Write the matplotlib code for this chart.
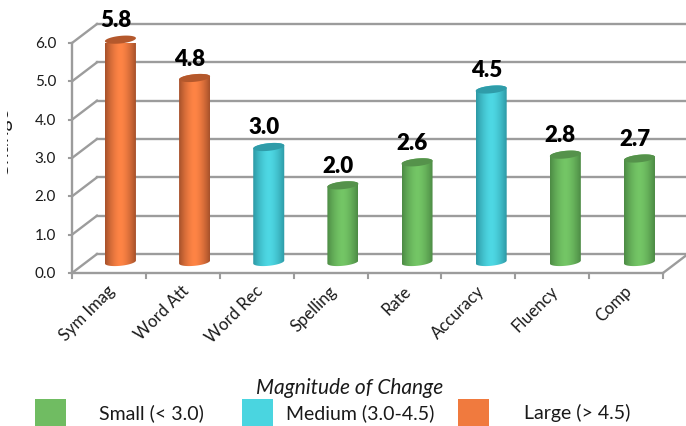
import numpy as np
import matplotlib
matplotlib.use("Agg")
import matplotlib.pyplot as plt
from matplotlib.colors import LinearSegmentedColormap
from matplotlib.patches import PathPatch, Rectangle
from matplotlib.path import Path
from matplotlib.transforms import Bbox

plt.rcParams['font.family'] = ['Lato', 'DejaVu Sans']

# Data
categories = ['Sym Imag', 'Word Att', 'Word Rec', 'Spelling', 'Rate', 'Accuracy', 'Fluency', 'Comp']
values = [5.8, 4.8, 3.0, 2.0, 2.6, 4.5, 2.8, 2.7]
magnitude = ['large', 'large', 'medium', 'small', 'small', 'medium', 'small', 'small']
y_ticks = [0, 1, 2, 3, 4, 5, 6]

# edge, middle, cap colours of the cylinders
palette = {
    'small': ('#4C8A44', '#74C666', '#55924B'),
    'medium': ('#2C97A3', '#4ED8E4', '#2F9CA9'),
    'large': ('#A5502A', '#FF8445', '#B4582C'),
}
legend_items = [('Small (< 3.0)', '#70BC62', 35, 151),
                ('Medium (3.0-4.5)', '#4AD5E0', 242, 360),
                ('Large (> 4.5)', '#F07A3E', 458, 577)]

W, H = 686, 427
fig = plt.figure(figsize=(W / 100, H / 100), dpi=100)
# front of the plot box
ax = fig.add_axes([72 / W, 1 - 274 / H, 591 / W, 230 / H])
ax.set_xlim(-0.5, 7.5)
ax.set_ylim(0, 6)
ax.axis('off')

px_x = 8 / 591   # data units per pixel
px_y = 6 / 230
depth_x = 25 * px_x
depth_y = 19 * px_y
grid_col = '#9C9C9C'

# walls: gridlines on the back and the side
for t in y_ticks:
    ax.plot([-0.5, -0.5 + depth_x], [t, t + depth_y], color=grid_col, lw=1.7, clip_on=False, zorder=1)
    ax.plot([-0.5 + depth_x, 7.5 + depth_x], [t + depth_y, t + depth_y], color=grid_col, lw=1.7,
            clip_on=False, zorder=1)
    ax.plot([-0.5 - 3 * px_x, -0.5], [t, t], color=grid_col, lw=1.5, clip_on=False, zorder=1)
    ax.text(-0.5 - 16 * px_x, t, f'{t:.1f}', ha='right', va='center', fontsize=11, color='#1A1A1A')

ax.plot([-0.5, -0.5], [0, 6], color=grid_col, lw=1.7, clip_on=False, zorder=1)
ax.plot([-0.5, 7.5], [0, 0], color=grid_col, lw=1.7, clip_on=False, zorder=1)
ax.plot([7.5, 7.5 + depth_x], [0, depth_y], color=grid_col, lw=1.7, clip_on=False, zorder=1)
for i in range(9):
    ax.plot([i - 0.5, i - 0.5], [0, -5 * px_y], color=grid_col, lw=1.5, clip_on=False, zorder=1)

# cylinders
half_w = 15.5 * px_x
half_h = 3.8 * px_y
tilt = 1.5 * px_y
shift_x = 11.5 * px_x
step = 74.15 * px_x
base = 11 * px_y
t_lo = np.linspace(np.pi, 2 * np.pi, 40)
t_up = np.linspace(0, np.pi, 40)
t_all = np.linspace(0, 2 * np.pi, 80)
ramp = np.abs(np.linspace(-1, 1, 256)) ** 1.6

for i, (v, m) in enumerate(zip(values, magnitude)):
    edge, mid, cap = palette[m]
    cmap = LinearSegmentedColormap.from_list('cyl', [mid, edge])
    cx = i * step + shift_x
    # body outline: lower arc of the base, upper arc of the top, right side higher than left
    xs = np.r_[cx + half_w * np.cos(t_lo), cx + half_w * np.cos(t_up)]
    ys = np.r_[base + half_h * np.sin(t_lo) + tilt * np.cos(t_lo),
               base + v + half_h * np.sin(t_up) + tilt * np.cos(t_up)]
    body = PathPatch(Path(np.c_[xs, ys]), transform=ax.transData, fc='none', ec='none')
    ax.add_patch(body)
    im = ax.imshow(ramp[None, :], cmap=cmap, vmin=0, vmax=1, aspect='auto', zorder=3,
                   extent=[cx - half_w, cx + half_w, 0, base + v + half_h + tilt + 0.1])
    im.set_clip_path(body)
    ax.fill(cx + half_w * np.cos(t_all),
            base + v + half_h * np.sin(t_all) + tilt * np.cos(t_all),
            color=cap, lw=0, zorder=4, clip_on=False)
    ax.text(cx - 5 * px_x, base + v + 20 * px_y, f'{v:.1f}', ha='center', va='center',
            fontsize=16, fontweight='heavy', color='black', zorder=5, clip_on=False)
    ax.text(i - 2 * px_x, -9 * px_y, categories[i], rotation=45, ha='right', va='top',
            rotation_mode='anchor', fontsize=12, color='#1A1A1A', clip_on=False)

ax.set_xlim(-0.5, 7.5)
ax.set_ylim(0, 6)

# axis title cut off in the reference: only the bottoms of its letters show
ytitle = fig.text(8 / W, 1 - 142 / H, 'Change', rotation=90, ha='center', va='baseline',
                  rotation_mode='anchor', fontsize=15, color='#1A1A1A')
ytitle.set_clip_box(Bbox.from_extents(7, 0, 40, H))
ytitle.set_clip_on(True)

# legend
fig.text(350 / W, 1 - 388 / H, 'Magnitude of Change', style='italic', ha='center', va='center',
         fontsize=15, color='#1A1A1A')
for label, col, x0, xt in legend_items:
    fig.add_artist(Rectangle((x0 / W, 1 - 427 / H), 31 / W, 27 / H, transform=fig.transFigure, fc=col, ec='none'))
    fig.text(xt / W, 1 - 413 / H, label, ha='center', va='center', fontsize=14, color='#1A1A1A')

fig.savefig('out.png', dpi=100)
